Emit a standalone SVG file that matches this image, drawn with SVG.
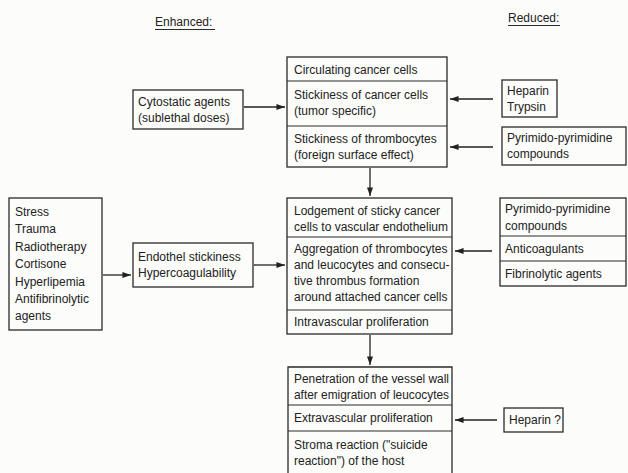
<svg xmlns="http://www.w3.org/2000/svg" width="628" height="473" viewBox="0 0 628 473">
<defs>
<marker id="ah" viewBox="0 0 10 7" refX="10" refY="3.5" markerWidth="9" markerHeight="6" markerUnits="userSpaceOnUse" orient="auto">
<path d="M0,0 L10,3.5 L0,7 z" fill="#222"/>
</marker>
<style>
.b{fill:none;stroke:#2a2a2a;stroke-width:1.3}
.d{stroke:#2a2a2a;stroke-width:1.2}
.t{font-family:"Liberation Sans",Arial,sans-serif;font-size:12px;fill:#222}
.h{font-family:"Liberation Sans",Arial,sans-serif;font-size:12px;fill:#222}
.c{fill:none;stroke:#222;stroke-width:1.3;marker-end:url(#ah)}
</style>
</defs>
<rect width="628" height="473" fill="#fcfcfa"/>

<g id="hdr-enhanced">
<text class="h" x="155" y="26">Enhanced:</text>
<line class="d" x1="155" y1="29.5" x2="215" y2="29.5" stroke-width="0.9"/>
</g>
<g id="hdr-reduced">
<text class="h" x="508" y="22">Reduced:</text>
<line class="d" x1="508" y1="25.5" x2="560" y2="25.5" stroke-width="0.9"/>
</g>

<g id="top-stack">
<rect class="b" x="287" y="57" width="160" height="110"/>
<line class="d" x1="287" y1="81" x2="447" y2="81"/>
<line class="d" x1="287" y1="126" x2="447" y2="126"/>
<text class="t" x="294" y="74">Circulating cancer cells</text>
<text class="t" x="294" y="99">Stickiness of cancer cells</text>
<text class="t" x="294" y="115">(tumor specific)</text>
<text class="t" x="294" y="143">Stickiness of thrombocytes</text>
<text class="t" x="294" y="159">(foreign surface effect)</text>
</g>

<g id="cytostatic">
<rect class="b" x="133" y="90" width="110" height="39"/>
<text class="t" x="138" y="106">Cytostatic agents</text>
<text class="t" x="138" y="122">(sublethal doses)</text>
</g>

<g id="heparin-trypsin">
<rect class="b" x="502" y="80" width="55" height="37"/>
<text class="t" x="507" y="95">Heparin</text>
<text class="t" x="507" y="111">Trypsin</text>
</g>

<g id="pyrimido-top">
<rect class="b" x="502" y="127" width="124" height="38"/>
<text class="t" x="507" y="142">Pyrimido-pyrimidine</text>
<text class="t" x="507" y="158">compounds</text>
</g>

<g id="left-factors">
<rect class="b" x="9" y="198" width="93" height="132"/>
<text class="t" x="15" y="216">Stress</text>
<text class="t" x="15" y="233">Trauma</text>
<text class="t" x="15" y="251">Radiotherapy</text>
<text class="t" x="15" y="268">Cortisone</text>
<text class="t" x="15" y="286">Hyperlipemia</text>
<text class="t" x="15" y="303">Antifibrinolytic</text>
<text class="t" x="15" y="320">agents</text>
</g>

<g id="endothel">
<rect class="b" x="133" y="243" width="120" height="44"/>
<text class="t" x="138" y="261">Endothel stickiness</text>
<text class="t" x="138" y="277">Hypercoagulability</text>
</g>

<g id="middle-stack">
<rect class="b" x="287" y="198" width="165" height="136"/>
<line class="d" x1="287" y1="237" x2="452" y2="237"/>
<line class="d" x1="287" y1="310" x2="452" y2="310"/>
<text class="t" x="294" y="215">Lodgement of sticky cancer</text>
<text class="t" x="294" y="231" textLength="154" lengthAdjust="spacingAndGlyphs">cells to vascular endothelium</text>
<text class="t" x="294" y="253">Aggregation of thrombocytes</text>
<text class="t" x="294" y="269">and leucocytes and consecu-</text>
<text class="t" x="294" y="285">tive thrombus formation</text>
<text class="t" x="294" y="301">around attached cancer cells</text>
<text class="t" x="294" y="326">Intravascular proliferation</text>
</g>

<g id="right-agents">
<rect class="b" x="500" y="198" width="126" height="88"/>
<line class="d" x1="500" y1="236" x2="626" y2="236"/>
<line class="d" x1="500" y1="261" x2="626" y2="261"/>
<text class="t" x="505" y="213">Pyrimido-pyrimidine</text>
<text class="t" x="505" y="230">compounds</text>
<text class="t" x="505" y="253">Anticoagulants</text>
<text class="t" x="505" y="278">Fibrinolytic agents</text>
</g>

<g id="bottom-stack">
<path class="b" d="M288,474 V367 H452 V474"/>
<line class="d" x1="288" y1="405" x2="452" y2="405"/>
<line class="d" x1="288" y1="431" x2="452" y2="431"/>
<text class="t" x="294" y="383" textLength="155" lengthAdjust="spacingAndGlyphs">Penetration of the vessel wall</text>
<text class="t" x="294" y="399" textLength="155" lengthAdjust="spacingAndGlyphs">after emigration of leucocytes</text>
<text class="t" x="294" y="422">Extravascular proliferation</text>
<text class="t" x="294" y="449">Stroma reaction ("suicide</text>
<text class="t" x="294" y="465">reaction") of the host</text>
</g>

<g id="heparin-q">
<rect class="b" x="504" y="408" width="59" height="24"/>
<text class="t" x="509" y="424">Heparin ?</text>
</g>

<g id="connectors">
<line class="c" x1="244" y1="107" x2="285" y2="107"/>
<line class="c" x1="493" y1="99" x2="450" y2="99"/>
<line class="c" x1="493" y1="147" x2="450" y2="147"/>
<line class="c" x1="370" y1="168" x2="370" y2="196"/>
<line class="c" x1="103" y1="275" x2="131" y2="275"/>
<line class="c" x1="254" y1="265" x2="285" y2="265"/>
<line class="c" x1="492" y1="251" x2="455" y2="251"/>
<line class="c" x1="370" y1="335" x2="370" y2="365"/>
<line class="c" x1="497" y1="420" x2="455" y2="420"/>
</g>
</svg>
